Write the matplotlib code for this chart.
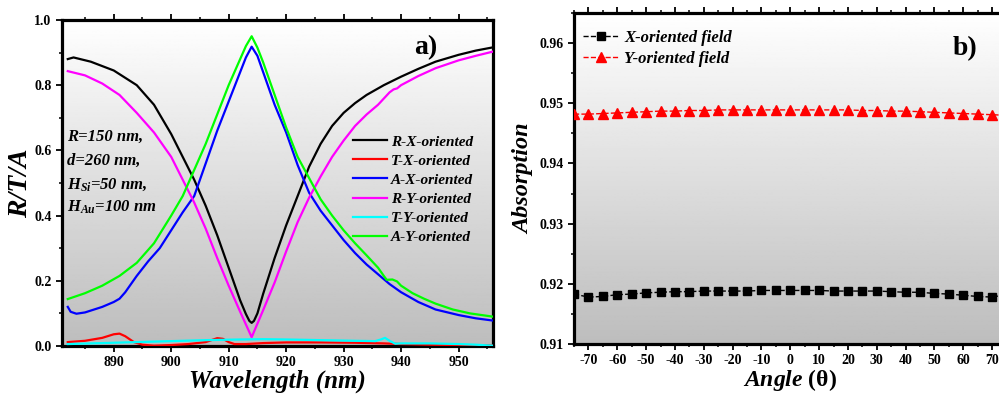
import matplotlib as mpl
mpl.use("Agg")
import matplotlib.pyplot as plt
import numpy as np
from matplotlib.ticker import MultipleLocator

plt.rcParams['font.family'] = ['Liberation Serif', 'DejaVu Serif']
plt.rcParams['font.weight'] = 'bold'
plt.rcParams['axes.unicode_minus'] = False
plt.rcParams['mathtext.fontset'] = 'custom'
plt.rcParams['mathtext.it'] = 'Liberation Serif:bold:italic'
plt.rcParams['mathtext.rm'] = 'Liberation Serif:bold'

# panel a) spectra
wl_rx = [882, 883, 886, 890, 894, 897, 900, 902, 904, 906, 908, 910, 912, 913, 913.6, 914, 914.4, 915,
         916, 918, 920, 922, 924, 926, 928, 930, 932, 934, 937, 940, 943, 946, 950, 953, 956]
r_x = [0.880, 0.885, 0.872, 0.845, 0.800, 0.740, 0.650, 0.580, 0.510, 0.430, 0.340, 0.240,
       0.140, 0.098, 0.077, 0.071, 0.077, 0.100, 0.160, 0.270, 0.370, 0.460, 0.550, 0.620,
       0.675, 0.715, 0.745, 0.770, 0.800, 0.826, 0.850, 0.872, 0.893, 0.906, 0.916]

wl_ry = [882, 885, 888, 891, 894, 897, 900, 902, 904, 906, 908, 910, 912, 914, 916, 918,
         920, 922, 924, 926, 928, 930, 932, 934, 936, 938, 938.7, 939.3, 940, 943, 946, 950, 953, 956]
r_y = [0.843, 0.830, 0.805, 0.770, 0.715, 0.655, 0.580, 0.510, 0.440, 0.360, 0.270, 0.185,
       0.105, 0.027, 0.110, 0.195, 0.290, 0.380, 0.455, 0.520, 0.580, 0.630, 0.675, 0.710,
       0.740, 0.778, 0.787, 0.790, 0.800, 0.828, 0.852, 0.876, 0.890, 0.903]

wl_ay = [882, 885, 888, 891, 894, 897, 900, 902, 904, 906, 908, 910, 912, 913, 914, 915,
         916, 918, 920, 922, 924, 926, 928, 930, 932, 934, 936, 937, 937.5, 938.5, 939.3,
         940, 942, 944, 946, 949, 952, 956]
a_y = [0.144, 0.162, 0.185, 0.215, 0.255, 0.315, 0.400, 0.460, 0.540, 0.620, 0.710, 0.800,
       0.880, 0.920, 0.950, 0.915, 0.870, 0.770, 0.670, 0.580, 0.515, 0.450, 0.400, 0.355,
       0.315, 0.278, 0.240, 0.215, 0.203, 0.204, 0.198, 0.185, 0.162, 0.145, 0.130, 0.112,
       0.100, 0.090]

wl_ax = [882, 882.5, 883.5, 885, 888, 890, 891, 892, 894, 896, 898, 900, 902, 904, 906, 908,
         910, 912, 913, 914, 915, 916, 918, 920, 922, 924, 926, 928, 930, 932, 934, 936, 938,
         940, 943, 946, 950, 953, 956]
a_x = [0.120, 0.105, 0.099, 0.103, 0.120, 0.135, 0.145, 0.165, 0.215, 0.260, 0.300, 0.355,
       0.410, 0.460, 0.560, 0.660, 0.750, 0.840, 0.885, 0.918, 0.890, 0.840, 0.740, 0.655,
       0.555, 0.470, 0.415, 0.370, 0.325, 0.285, 0.250, 0.220, 0.190, 0.165, 0.135, 0.112,
       0.095, 0.085, 0.078]

wl_tx = [882, 885, 888, 890, 891, 892, 893.5, 895, 897, 900, 903, 906, 908, 909, 910, 911,
         913, 916, 920, 926, 932, 937, 940, 945, 950, 956]
t_x = [0.012, 0.016, 0.025, 0.036, 0.038, 0.030, 0.012, 0.004, 0.001, 0.003, 0.006, 0.012,
       0.024, 0.022, 0.012, 0.006, 0.006, 0.009, 0.011, 0.011, 0.010, 0.008, 0.006, 0.004,
       0.003, 0.001]

wl_ty = [882, 888, 894, 900, 906, 912, 916, 920, 926, 932, 935.5, 936.5, 937.2, 938, 939,
         940, 945, 950, 953, 956]
t_y = [0.006, 0.009, 0.012, 0.015, 0.018, 0.020, 0.021, 0.020, 0.018, 0.016, 0.015, 0.020,
       0.025, 0.016, 0.007, 0.008, 0.008, 0.006, 0.004, 0.001]

# panel b) absorption vs angle
angle = list(range(-75, 80, 5))
abs_x = [0.9183, 0.9178, 0.9179, 0.9182, 0.9183, 0.9185, 0.9186, 0.9187, 0.9187, 0.9188,
         0.9188, 0.9188, 0.9188, 0.9189, 0.9189, 0.9189, 0.9189, 0.9189, 0.9188, 0.9188,
         0.9188, 0.9188, 0.9187, 0.9186, 0.9186, 0.9184, 0.9183, 0.9181, 0.9179, 0.9178, 0.9182]
abs_y = [0.9482, 0.9482, 0.9483, 0.9484, 0.9485, 0.9486, 0.9487, 0.9487, 0.9488, 0.9488,
         0.9489, 0.9489, 0.9489, 0.9489, 0.9489, 0.9489, 0.9489, 0.9489, 0.9489, 0.9489,
         0.9488, 0.9488, 0.9487, 0.9487, 0.9486, 0.9485, 0.9484, 0.9483, 0.9482, 0.9481, 0.9480]

fig = plt.figure(figsize=(9.99, 3.99), dpi=100)
ax1 = fig.add_axes([0.0621, 0.1328, 0.4314, 0.8172])
ax2 = fig.add_axes([0.5746, 0.1378, 0.4329, 0.8296])

grad = np.linspace(1.0, 0.74, 256).reshape(-1, 1)
for ax in (ax1, ax2):
    ax.imshow(grad, cmap='gray', vmin=0, vmax=1, aspect='auto', extent=[0, 1, 0, 1],
              transform=ax.transAxes, zorder=0)
    for s in ax.spines.values():
        s.set_linewidth(2.3)
    ax.tick_params(which='major', direction='out', length=4, width=1.3, labelsize=10)
    ax.tick_params(which='minor', direction='out', length=2.5, width=1.1)
    ax.tick_params(axis='x', which='both', top=True, labeltop=False)

ax1.plot(wl_rx, r_x, color='black', lw=1.6, label='R-X-oriented', zorder=3)
ax1.plot(wl_tx, t_x, color='#ff0000', lw=1.6, label='T-X-oriented', zorder=3)
ax1.plot(wl_ax, a_x, color='#0000ff', lw=1.6, label='A-X-oriented', zorder=3)
ax1.plot(wl_ry, r_y, color='#ff00ff', lw=1.6, label='R-Y-oriented', zorder=3)
ax1.plot(wl_ty, t_y, color='#00ffff', lw=1.6, label='T-Y-oriented', zorder=3)
ax1.plot(wl_ay, a_y, color='#00ff00', lw=1.6, label='A-Y-oriented', zorder=3)
ax1.set_xlim(881, 956)
ax1.set_ylim(0, 1.0)
ax1.xaxis.set_major_locator(MultipleLocator(10))
ax1.xaxis.set_minor_locator(MultipleLocator(5))
ax1.yaxis.set_major_locator(MultipleLocator(0.2))
ax1.yaxis.set_minor_locator(MultipleLocator(0.1))
ax1.set_xticks([890, 900, 910, 920, 930, 940, 950])
ax1.set_xlabel('Wavelength (nm)', fontsize=18, fontweight='bold', style='italic', labelpad=0)
ax1.set_ylabel('R/T/A', fontsize=20, fontweight='bold', style='italic', labelpad=1)
ax1.legend(loc='center left', bbox_to_anchor=(0.675, 0.48), frameon=False,
           prop={'weight': 'bold', 'style': 'italic', 'size': 11}, handlelength=2.2,
           handletextpad=0.3, labelspacing=0.35, borderpad=0, borderaxespad=0)
ax1.text(0.845, 0.915, 'a)', transform=ax1.transAxes, fontsize=20, fontweight='bold',
         ha='center', va='center')
params = ['R=150 nm,', 'd=260 nm,', '$H_{Si}$=50 nm,', '$H_{Au}$=100 nm']
for i, p in enumerate(params):
    ax1.text(0.012, 0.64 - i * 0.072, p, transform=ax1.transAxes, fontsize=12,
             fontweight='bold', style='italic', va='center')

ax2.plot(angle, abs_x, color='black', ls='--', lw=1.0, marker='s', ms=5.5,
         label='X-oriented field', zorder=3)
ax2.plot(angle, abs_y, color='#ff0000', ls='--', lw=1.0, marker='^', ms=6.5,
         label='Y-oriented field', zorder=3)
ax2.set_xlim(-75, 75)
ax2.set_ylim(0.91, 0.965)
ax2.xaxis.set_minor_locator(MultipleLocator(5))
ax2.yaxis.set_minor_locator(MultipleLocator(0.005))
ax2.set_xticks(list(range(-70, 80, 10)))
ax2.set_yticks([0.91, 0.92, 0.93, 0.94, 0.95, 0.96])
ax2.set_yticklabels(['0.91', '0.92', '0.93', '0.94', '0.95', '0.96'])
ax2.set_xlabel('$Angle$ (θ)', fontsize=17, fontweight='bold', labelpad=0)
ax2.set_ylabel('Absorption', fontsize=17.5, fontweight='bold', style='italic', labelpad=4)
ax2.legend(loc='upper left', bbox_to_anchor=(0.02, 0.95), frameon=False,
           prop={'weight': 'bold', 'style': 'italic', 'size': 12}, handlelength=2.2,
           handletextpad=0.3, labelspacing=0.3, borderpad=0, borderaxespad=0)
ax2.text(0.905, 0.893, 'b)', transform=ax2.transAxes, fontsize=20, fontweight='bold',
         ha='center', va='center')

for ax in (ax1, ax2):
    for lab in ax.get_xticklabels() + ax.get_yticklabels():
        lab.set_fontweight('bold')

plt.savefig('out.png', dpi=100)
